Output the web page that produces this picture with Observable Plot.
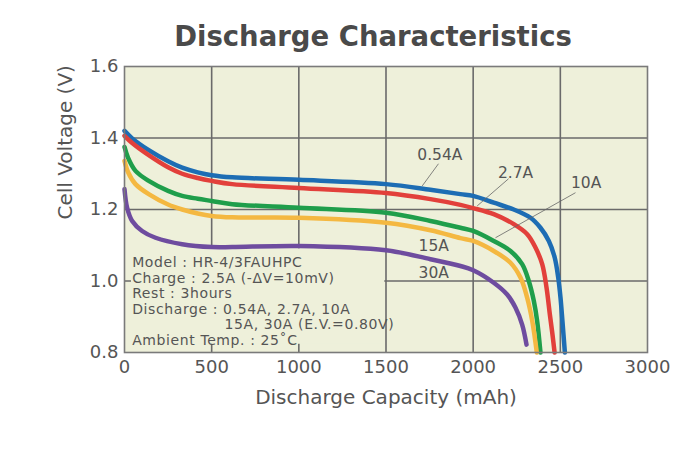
<!DOCTYPE html>
<html><head><meta charset="utf-8">
<script src="https://cdn.jsdelivr.net/npm/d3@7"></script>
<script src="https://cdn.jsdelivr.net/npm/@observablehq/plot@0.6"></script>
<style>body{margin:0;background:#fff} .note text{letter-spacing:0.6px}</style>
</head><body><div id="chart"></div>
<script>
// Series: discharge current, colour, capacity (mAh), voltage (V)
const currents = ["0.54A", "2.7A", "10A", "15A", "30A"];
const colors = ["#1d6db4", "#e2403b", "#1f9e4b", "#f4b841", "#6e4c9f"];

const cap054 = [0, 44, 139, 250, 331, 420, 500, 618, 1000, 1500, 1755, 1927, 2000, 2118, 2233, 2329, 2386, 2434, 2468, 2488, 2501, 2512, 2526];
const v054   = [1.42, 1.399, 1.366, 1.335, 1.317, 1.304, 1.296, 1.290, 1.283, 1.271, 1.255, 1.243, 1.238, 1.219, 1.200, 1.177, 1.149, 1.112, 1.065, 1.009, 0.953, 0.888, 0.800];

const cap27 = [0, 44, 139, 250, 331, 420, 500, 618, 1000, 1500, 1755, 1927, 2000, 2118, 2233, 2310, 2358, 2396, 2421, 2440, 2455, 2467];
const v27   = [1.406, 1.386, 1.352, 1.318, 1.300, 1.288, 1.280, 1.271, 1.260, 1.246, 1.229, 1.213, 1.204, 1.187, 1.159, 1.131, 1.093, 1.047, 0.981, 0.906, 0.850, 0.800];

const cap10 = [0, 20, 63, 139, 250, 331, 420, 500, 618, 1000, 1500, 1755, 1927, 2000, 2118, 2214, 2281, 2319, 2348, 2367, 2386];
const v10   = [1.375, 1.345, 1.308, 1.280, 1.252, 1.238, 1.230, 1.224, 1.215, 1.205, 1.191, 1.168, 1.149, 1.140, 1.112, 1.084, 1.047, 1.000, 0.944, 0.888, 0.800];

const cap15 = [0, 20, 63, 139, 250, 331, 420, 500, 618, 1000, 1500, 1755, 1927, 2000, 2118, 2214, 2272, 2310, 2339, 2365];
const v15   = [1.336, 1.305, 1.271, 1.243, 1.214, 1.200, 1.189, 1.182, 1.178, 1.177, 1.163, 1.142, 1.120, 1.112, 1.084, 1.051, 1.009, 0.953, 0.888, 0.800];

const cap30 = [0, 15, 44, 101, 178, 331, 500, 618, 1000, 1500, 1755, 1927, 2000, 2118, 2195, 2243, 2281, 2306];
const v30   = [1.257, 1.205, 1.168, 1.140, 1.121, 1.103, 1.095, 1.095, 1.098, 1.086, 1.061, 1.042, 1.030, 0.995, 0.962, 0.925, 0.878, 0.822];

const caps = [cap054, cap27, cap10, cap15, cap30];
const volts = [v054, v27, v10, v15, v30];

const xTicks = [0, 500, 1000, 1500, 2000, 2500, 3000];
const yTicks = [0.8, 1.0, 1.2, 1.4, 1.6];
const yTickLabels = ["0.8", "1.0", "1.2", "1.4", "1.6"];

// Curve labels (text position) and their leader lines
const curveLabels = [
  {text: "0.54A", x: 1809, y: 1.353},
  {text: "2.7A",  x: 2243, y: 1.303},
  {text: "10A",   x: 2648, y: 1.275},
  {text: "15A",   x: 1774, y: 1.098},
  {text: "30A",   x: 1774, y: 1.023}
];
const leaders = [
  {x1: 1801, y1: 1.328, x2: 1708, y2: 1.266},
  {x1: 2203, y1: 1.286, x2: 2023, y2: 1.210},
  {x1: 2587, y1: 1.247, x2: 2128, y2: 1.121}
];

// Test conditions note
const noteLines = [
  {text: "Model : HR-4/3FAUHPC", x: 44, y: 1.0516},
  {text: "Charge : 2.5A (-\u0394V=10mV)", x: 44, y: 1.0073},
  {text: "Rest : 3hours", x: 44, y: 0.9647},
  {text: "Discharge : 0.54A, 2.7A, 10A", x: 44, y: 0.9212},
  {text: "15A, 30A (E.V.=0.80V)", x: 574, y: 0.8777},
  {text: "Ambient Temp. : 25\u02DAC", x: 44, y: 0.8342}
];

const rows = [];
currents.forEach((c, i) => caps[i].forEach((x, j) => rows.push({series: c, cap: x, v: volts[i][j]})));

const bg = "#eef0da";
const textCol = "#555";

const chart = Plot.plot({
  width: 700, height: 450,
  marginLeft: 124, marginRight: 53, marginTop: 66, marginBottom: 98,
  style: {fontFamily: "DejaVu Sans", background: "#fff"},
  x: {domain: [0, 3000]},
  y: {domain: [0.8, 1.6]},
  color: {domain: currents, range: colors},
  marks: [
    Plot.frame({fill: bg}),
    Plot.ruleX(xTicks.slice(1, -1), {stroke: "#6a6a6a", strokeWidth: 1.6}),
    Plot.ruleY(yTicks.slice(1, -1), {stroke: "#6a6a6a", strokeWidth: 1.6}),
    Plot.rect([0], {x1: 40, x2: 1493, y1: 0.823, y2: 1.09, fill: bg}),
    Plot.line(rows, {x: "cap", y: "v", z: "series", stroke: "series", strokeWidth: 4.5, curve: "catmull-rom"}),
    Plot.frame({stroke: "#7a7a7a", strokeWidth: 1.6}),
    Plot.link(leaders, {x1: "x1", y1: "y1", x2: "x2", y2: "y2", stroke: "#666", strokeWidth: 0.8}),
    Plot.text(curveLabels, {x: "x", y: "y", text: "text", fontSize: 15.5, fill: textCol}),
    Plot.text(noteLines, {x: "x", y: "y", text: "text", textAnchor: "start", fontSize: 14, fill: textCol, className: "note"}),
    Plot.axisX({ticks: xTicks, tickFormat: d => String(d), tickSize: 0, tickPadding: 8, fontSize: 18, fill: textCol, label: null}),
    Plot.axisY({ticks: yTicks, tickFormat: (d, i) => yTickLabels[i], tickSize: 0, tickPadding: 6, fontSize: 18, fill: textCol, label: null}),
    Plot.text(["Discharge Capacity (mAh)"], {frameAnchor: "bottom", lineAnchor: "bottom", dy: 51, fontSize: 20, fill: textCol}),
    Plot.text(["Cell Voltage (V)"], {frameAnchor: "left", dx: -59, dy: 10, rotate: -90, fontSize: 20, fill: textCol}),
    Plot.text(["Discharge Characteristics"], {frameAnchor: "top", lineAnchor: "bottom", dy: -21, dx: -13, fontSize: 27.5, fontWeight: "bold", fill: "#4a4a4a"})
  ]
});
document.getElementById("chart").appendChild(chart);
</script>
</body></html>
